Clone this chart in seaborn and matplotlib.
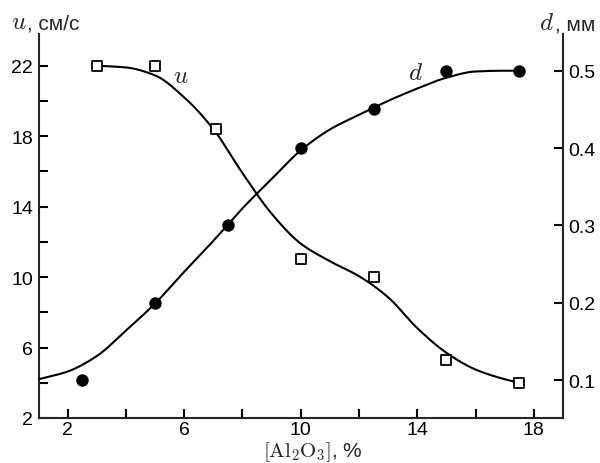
import matplotlib
matplotlib.use("Agg")
import matplotlib.pyplot as plt
import seaborn as sns
import numpy as np

# measured points
u_x = [3.0, 5.0, 7.1, 10.0, 12.5, 15.0, 17.5]
u_val = [22.0, 22.0, 18.4, 11.0, 10.0, 5.3, 4.0]
d_x = [2.5, 5.0, 7.5, 10.0, 12.5, 15.0, 17.5]
d_val = [0.10, 0.20, 0.30, 0.40, 0.45, 0.50, 0.50]

# fitted curves
u_curve_x = [3.0, 4.0, 5.0, 6.0, 7.0, 8.0, 9.0, 10.0, 11.0, 12.0, 13.0, 14.0,
             15.0, 16.0, 17.0, 17.5]
u_curve = [22.0, 21.9, 21.45, 20.2, 18.4, 15.9, 13.6, 11.9, 10.9, 10.05, 8.85,
           7.1, 5.7, 4.75, 4.2, 4.0]
d_curve_x = [1.0, 2.0, 3.0, 4.0, 5.0, 6.0, 7.0, 8.0, 9.0, 10.0, 11.0, 12.0,
             13.0, 14.0, 15.0, 16.0, 17.0, 17.5]
d_curve = [0.101, 0.111, 0.131, 0.164, 0.199, 0.240, 0.280, 0.322, 0.360, 0.397,
           0.424, 0.443, 0.461, 0.477, 0.491, 0.499, 0.500, 0.500]

x_tick_labels = [2, 6, 10, 14, 18]
u_tick_labels = [2, 6, 10, 14, 18, 22]
d_ticks = [0.1, 0.2, 0.3, 0.4, 0.5]


def smooth_path(xs, ys, n=16):
    """Monotone cubic (Fritsch-Carlson) rendering through the read knots."""
    x = np.asarray(xs, float)
    y = np.asarray(ys, float)
    h = np.diff(x)
    dl = np.diff(y) / h
    m = np.zeros_like(y)
    m[0], m[-1] = dl[0], dl[-1]
    for i in range(1, len(y) - 1):
        if dl[i - 1] * dl[i] <= 0:
            m[i] = 0.0
        else:
            w1 = 2 * h[i] + h[i - 1]
            w2 = h[i] + 2 * h[i - 1]
            m[i] = (w1 + w2) / (w1 / dl[i - 1] + w2 / dl[i])
    px, py = [], []
    for i in range(len(h)):
        t = np.linspace(0, 1, n, endpoint=(i == len(h) - 1))
        h00 = 2 * t**3 - 3 * t**2 + 1
        h10 = t**3 - 2 * t**2 + t
        h01 = -2 * t**3 + 3 * t**2
        h11 = t**3 - t**2
        px.extend(x[i] + t * h[i])
        py.extend(h00 * y[i] + h10 * h[i] * m[i] + h01 * y[i + 1] + h11 * h[i] * m[i + 1])
    return np.array(px), np.array(py)


sns.set_style("ticks")
plt.rcParams["font.family"] = ["Liberation Sans", "DejaVu Sans"]
plt.rcParams["mathtext.fontset"] = "cm"
plt.rcParams["xtick.direction"] = "in"
plt.rcParams["ytick.direction"] = "in"

fig = plt.figure(figsize=(6, 4.64), dpi=100)
ax = fig.add_axes([0.0642, 0.0970, 0.8741, 0.8276])
ax2 = ax.twinx()

ux, uy = smooth_path(u_curve_x, u_curve)
dx, dy = smooth_path(d_curve_x, d_curve)

sns.lineplot(x=ux, y=uy, ax=ax, color="black", lw=1.5,
             sort=False, estimator=None, zorder=2)
sns.scatterplot(x=u_x, y=u_val, ax=ax, marker="s", s=60, facecolor="white",
                edgecolor="black", linewidth=1.3, zorder=3)
sns.lineplot(x=dx, y=dy, ax=ax2, color="black", lw=1.5,
             sort=False, estimator=None, zorder=2)
sns.scatterplot(x=d_x, y=d_val, ax=ax2, marker="o", s=80, color="black",
                edgecolor="black", linewidth=0, zorder=3)

ax.set_xlim(1, 19)
ax.set_ylim(2.06, 23.8)
ax2.set_ylim(0.0509, 0.5475)
xt = list(range(2, 19, 2))
ax.set_xticks(xt)
ax.set_xticklabels([str(t) if t in x_tick_labels else "" for t in xt])
yt = list(range(2, 23, 2))
ax.set_yticks(yt)
ax.set_yticklabels([str(t) if t in u_tick_labels else "" for t in yt])
ax2.set_yticks(d_ticks)
ax2.set_yticklabels([f"{t:.1f}" for t in d_ticks])

for a in (ax, ax2):
    a.spines["top"].set_visible(False)
    for s in a.spines.values():
        s.set_linewidth(1.5)
    a.set_xlabel("")
    a.set_ylabel("")
ax.spines["right"].set_visible(False)
ax2.spines["left"].set_visible(False)
ax2.spines["bottom"].set_visible(False)

ax.tick_params(axis="both", direction="in", length=6.5, width=1.5,
               labelsize=14, pad=4, colors="black")
ax.tick_params(axis="x", pad=2)
ax2.tick_params(axis="y", direction="in", length=6.5, width=1.5,
                labelsize=14, pad=4, colors="black")

ax.text(5.61, 21.47, "$u$", fontsize=18, ha="left", va="center")
ax2.text(13.68, 0.498, "$d$", fontsize=18, ha="left", va="center")

fig.text(11 / 600, 1 - 29 / 464, "$u$", fontsize=18, ha="left", va="baseline")
fig.text(27 / 600, 1 - 29 / 464, ", см/с", fontsize=15, ha="left", va="baseline")
fig.text(539 / 600, 1 - 30.5 / 464, "$d$", fontsize=18, ha="left", va="baseline")
fig.text(555 / 600, 1 - 30.5 / 464, ", мм", fontsize=15, ha="left", va="baseline")
fig.text(313 / 600, 1 - 452.5 / 464, r"$[\mathrm{Al}_2\mathrm{O}_3]$, %", fontsize=15,
         ha="center", va="center")

fig.savefig("out.png", dpi=100)
